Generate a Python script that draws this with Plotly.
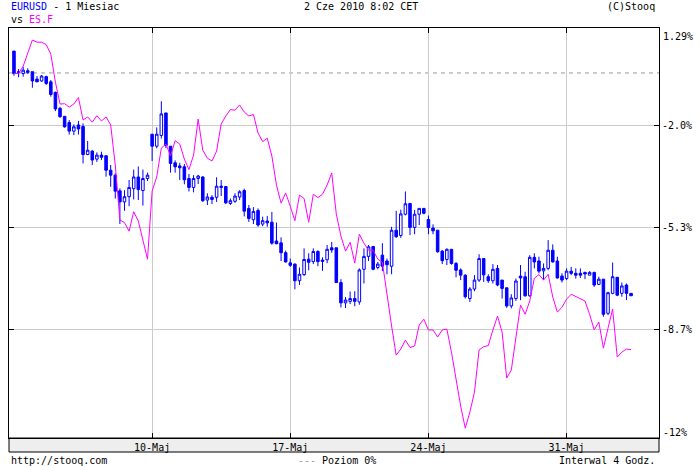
import plotly.graph_objects as go

# ---- data (percent) ----
OPEN = [0.38, -0.32, -0.35, -0.26, -0.29, -0.53, -0.59, -0.45, -0.62, -0.96,
        -1.48, -1.74, -1.94, -2.22, -2.02, -2.07, -2.98, -2.87, -3.13, -3.00,
        -3.02, -3.49, -3.65, -4.16, -4.52, -4.35, -4.09, -3.71, -4.15, -3.76,
        -2.32, -2.71, -2.36, -1.63, -2.71, -3.25, -3.35, -3.38, -3.76, -4.05,
        -3.76, -3.71, -4.46, -4.37, -4.37, -4.05, -4.02, -4.57, -4.50, -4.36,
        -4.15, -4.73, -5.10, -4.80, -5.24, -5.14, -5.18, -5.79, -5.85, -6.17,
        -6.50, -6.54, -7.08, -6.88, -6.38, -6.46, -6.13, -6.41, -6.40, -6.01,
        -6.01, -7.14, -7.80, -7.75, -7.66, -7.77, -6.71, -6.29, -5.97, -6.65,
        -6.25, -6.44, -6.61, -5.44, -5.61, -4.92, -4.57, -5.35, -4.92, -4.73,
        -5.09, -5.37, -5.44, -6.12, -6.39, -6.06, -6.52, -6.73, -6.90, -7.66,
        -7.35, -7.06, -6.36, -6.95, -7.08, -6.68, -7.06, -7.31, -7.90, -7.66,
        -6.93, -6.95, -7.57, -6.32, -6.44, -6.76, -6.68, -6.09, -6.44, -6.93,
        -7.01, -6.77, -6.84, -6.84, -6.81, -6.90, -6.81, -7.20, -7.03, -8.14,
        -7.49, -6.97, -7.49, -7.22, -7.49]
HIGH = [0.38, -0.20, -0.13, -0.18, -0.29, -0.43, -0.40, -0.42, -0.56, -0.94,
        -1.43, -1.74, -1.86, -2.00, -1.89, -1.97, -2.54, -2.84, -2.91, -2.89,
        -3.02, -3.32, -3.59, -4.08, -4.14, -3.81, -3.47, -3.37, -3.47, -3.57,
        -2.32, -2.10, -1.25, -1.63, -2.71, -3.17, -3.25, -3.29, -3.61, -3.65,
        -3.64, -3.68, -4.24, -4.30, -3.72, -3.81, -4.01, -4.41, -4.24, -4.14,
        -4.09, -4.62, -4.69, -4.73, -5.00, -4.98, -4.85, -5.19, -5.67, -6.10,
        -6.36, -6.52, -6.65, -6.03, -6.19, -6.03, -6.09, -6.32, -5.92, -5.82,
        -6.01, -7.03, -7.61, -7.43, -7.42, -6.68, -6.03, -5.92, -5.96, -6.47,
        -5.86, -6.36, -5.33, -4.81, -4.77, -4.18, -4.57, -4.78, -4.73, -4.73,
        -4.96, -5.25, -5.44, -6.08, -6.03, -6.06, -6.47, -6.68, -6.87, -7.29,
        -6.90, -6.22, -6.36, -6.87, -6.54, -6.57, -7.06, -7.31, -7.52, -7.01,
        -6.57, -6.79, -6.25, -6.19, -6.30, -6.52, -5.76, -5.90, -6.30, -6.84,
        -6.68, -6.63, -6.68, -6.68, -6.79, -6.77, -6.79, -6.95, -7.03, -7.44,
        -6.49, -6.97, -7.14, -7.17, -7.49]
LOW = [-0.42, -0.47, -0.45, -0.36, -0.81, -0.62, -0.62, -0.72, -1.10, -1.57,
       -1.79, -2.11, -2.33, -2.35, -2.33, -3.27, -3.00, -3.32, -3.22, -3.16,
       -3.70, -4.03, -4.41, -5.24, -4.81, -4.66, -4.44, -4.46, -4.64, -3.84,
       -3.19, -2.78, -2.46, -2.77, -3.57, -3.57, -3.81, -3.95, -4.18, -4.21,
       -3.94, -4.52, -4.62, -4.59, -4.52, -4.33, -4.59, -4.62, -4.55, -4.46,
       -4.99, -5.17, -5.24, -5.33, -5.31, -5.33, -5.91, -5.89, -6.44, -6.49,
       -6.63, -7.36, -7.22, -6.93, -6.74, -6.54, -6.61, -6.76, -6.51, -6.17,
       -7.15, -7.95, -7.97, -7.84, -7.91, -7.86, -7.17, -6.44, -6.74, -6.71,
       -6.77, -6.87, -6.87, -5.69, -5.69, -4.96, -5.60, -5.57, -5.27, -4.92,
       -5.57, -5.57, -6.17, -6.54, -6.57, -6.56, -6.97, -7.06, -7.66, -7.77,
       -7.42, -7.12, -7.12, -7.15, -7.17, -7.26, -7.66, -7.96, -7.98, -7.74,
       -7.71, -7.60, -7.60, -6.68, -6.84, -7.06, -6.74, -6.49, -7.01, -7.14,
       -7.06, -6.90, -7.01, -6.99, -7.03, -6.90, -7.28, -7.22, -8.25, -8.20,
       -7.52, -7.58, -7.60, -7.71, -7.57]
CLOSE = [-0.35, -0.29, -0.24, -0.31, -0.59, -0.62, -0.43, -0.67, -1.03, -1.50,
         -1.75, -2.08, -2.22, -2.08, -2.15, -2.98, -2.84, -3.16, -3.00, -3.07,
         -3.49, -3.65, -4.17, -4.52, -4.35, -4.05, -3.71, -4.12, -3.76, -3.65,
         -2.71, -2.32, -1.66, -2.69, -3.27, -3.38, -3.41, -3.80, -4.05, -3.76,
         -3.68, -4.48, -4.36, -4.44, -4.01, -4.01, -4.55, -4.48, -4.33, -4.19,
         -4.82, -5.06, -4.83, -5.27, -5.13, -5.20, -5.86, -5.88, -6.17, -6.47,
         -6.58, -7.08, -6.87, -6.39, -6.48, -6.13, -6.46, -6.45, -6.06, -6.08,
         -7.14, -7.80, -7.71, -7.66, -7.75, -6.73, -6.29, -5.98, -6.71, -6.54,
         -6.61, -6.56, -5.44, -5.65, -4.91, -4.58, -5.35, -4.92, -4.73, -4.89,
         -5.35, -5.46, -6.14, -6.43, -6.06, -6.52, -6.74, -6.90, -7.60, -7.35,
         -7.06, -6.36, -6.89, -7.08, -6.71, -7.22, -7.33, -7.90, -7.64, -7.09,
         -6.99, -7.57, -6.32, -6.47, -6.77, -6.68, -6.09, -6.47, -6.99, -7.06,
         -6.77, -6.84, -6.90, -6.90, -6.86, -6.81, -7.22, -7.03, -8.17, -7.47,
         -6.95, -7.55, -7.25, -7.49, -7.57]
ES_F = [-0.35, -0.35, -0.11, 0.32, 0.74, 0.67, 0.67, 0.59, 0.28, -0.63,
        -1.34, -1.33, -1.44, -1.34, -1.13, -1.86, -1.76, -1.93, -1.72, -1.89,
        -1.76, -2.02, -3.32, -5.11, -5.19, -5.47, -4.84, -5.14, -5.76, -6.38,
        -4.17, -3.71, -2.77, -2.64, -3.03, -2.53, -2.64, -3.13, -3.47, -3.00,
        -1.83, -2.84, -3.10, -3.19, -2.87, -1.99, -1.73, -1.52, -1.54, -1.37,
        -1.60, -1.73, -1.68, -2.28, -2.56, -2.45, -3.03, -3.97, -4.56, -4.23,
        -4.66, -5.13, -4.30, -4.41, -5.18, -4.27, -4.38, -4.27, -3.97, -3.58,
        -4.92, -5.63, -6.12, -5.83, -6.51, -5.57, -5.86, -6.09, -6.09, -6.38,
        -6.48, -7.55, -8.55, -9.50, -9.30, -9.01, -9.25, -9.20, -8.52, -8.33,
        -8.68, -8.68, -8.91, -8.68, -8.65, -9.40, -10.28, -11.15, -11.87, -11.35,
        -10.70, -9.33, -9.22, -9.19, -8.68, -8.23, -8.75, -10.24, -9.98, -8.85,
        -7.87, -8.17, -7.74, -7.00, -6.88, -7.06, -6.87, -7.61, -8.10, -7.94,
        -7.68, -7.52, -7.60, -7.68, -7.74, -8.17, -8.68, -8.42, -9.27, -8.62,
        -8.00, -9.56, -9.40, -9.30, -9.32]

WEEK_TICK_INDEX = [30, 60, 90, 120]          # candle index of Monday 00:00
WEEK_TICK_LABELS = ["10-Maj", "17-Maj", "24-Maj", "31-Maj"]
Y_TICK_VALUES = [-2.03, -5.35, -8.67]
Y_TICK_LABELS = ["-2.0%", "-5.3%", "-8.7%"]
Y_TOP_LABEL = "1.29%"
Y_BOTTOM = -12.0
Y_BOTTOM_LABEL = "-12%"
ZERO_LEVEL = -0.33
Y_RANGE = [-12.19, 1.13]
X_RANGE = [-1.08, 140.07]

FONT = "DejaVu Sans Mono"
BLUE = "#0000ff"
MAGENTA = "#ff00ff"

x = list(range(len(OPEN)))

fig = go.Figure()
fig.add_trace(go.Candlestick(
    x=x, open=OPEN, high=HIGH, low=LOW, close=CLOSE,
    increasing=dict(line=dict(color=BLUE, width=1), fillcolor="#ffffff"),
    decreasing=dict(line=dict(color=BLUE, width=1), fillcolor=BLUE),
    whiskerwidth=0, showlegend=False, hoverinfo="skip"))
fig.add_trace(go.Scatter(
    x=x, y=ES_F, mode="lines", line=dict(color=MAGENTA, width=1),
    showlegend=False, hoverinfo="skip"))

# plot area in pixels: x 8..660, y 28..438
W, H = 700, 466
L, R, T, B = 8, 40, 28, 28
PW, PH = W - L - R, H - T - B


def px_x(px):
    return (px - L) / PW


def px_y(py):
    return (H - B - py) / PH


fig.update_layout(
    width=W, height=H,
    margin=dict(l=L, r=R, t=T, b=B, pad=0),
    paper_bgcolor="white", plot_bgcolor="white",
    showlegend=False,
    boxgap=0.45, boxgroupgap=0,
    font=dict(family=FONT, size=10, color="black"),
)
fig.update_xaxes(
    range=X_RANGE, tickmode="array", tickvals=WEEK_TICK_INDEX, ticktext=WEEK_TICK_LABELS,
    showgrid=True, gridcolor="#cccccc", gridwidth=1,
    showline=True, linecolor="black", linewidth=1, mirror="ticks",
    ticks="inside", ticklen=5, tickcolor="black", tickwidth=1,
    zeroline=False, rangeslider=dict(visible=False), fixedrange=True,
    tickfont=dict(family=FONT, size=10, color="black"),
)
fig.update_yaxes(
    range=Y_RANGE, side="right", tickmode="array",
    tickvals=Y_TICK_VALUES, ticktext=Y_TICK_LABELS,
    showgrid=True, gridcolor="#cccccc", gridwidth=1,
    showline=True, linecolor="black", linewidth=1, mirror="ticks",
    ticks="inside", ticklen=5, tickcolor="black", tickwidth=1,
    zeroline=False, fixedrange=True,
    tickfont=dict(family=FONT, size=10, color="black"),
)

fig.add_shape(type="line", xref="paper", yref="y", x0=0, x1=1,
              y0=ZERO_LEVEL, y1=ZERO_LEVEL,
              line=dict(color="#999999", width=1, dash="4px,4px"), layer="below")
fig.add_shape(type="rect", xref="paper", yref="paper", x0=0, x1=1,
              y0=px_y(452), y1=0, fillcolor="#eeeeee",
              line=dict(color="black", width=1), layer="below")

ann = dict(showarrow=False, font=dict(family=FONT, size=10, color="black"),
           xref="paper", yref="paper", yanchor="middle")
fig.add_annotation(text="<span style='color:#0000ff'>EURUSD</span> - 1 Miesiac",
                   x=px_x(8), y=px_y(7), xanchor="left", **ann)
fig.add_annotation(text="vs <span style='color:#ff00ff'>ES.F</span>",
                   x=px_x(8), y=px_y(20), xanchor="left", **ann)
fig.add_annotation(text="2 Cze 2010 8:02 CET", x=px_x(302), y=px_y(7), xanchor="left", **ann)
fig.add_annotation(text="(C)Stooq", x=px_x(658), y=px_y(7), xanchor="right", **ann)
fig.add_annotation(text="http://stooq.com", x=px_x(8), y=px_y(460), xanchor="left", **ann)
fig.add_annotation(text="<span style='color:#999999'>---</span> Poziom 0%",
                   x=px_x(296), y=px_y(460), xanchor="left", **ann)
fig.add_annotation(text="Interwal 4 Godz.", x=px_x(658), y=px_y(460), xanchor="right", **ann)
fig.add_annotation(text=Y_TOP_LABEL, x=px_x(662), y=px_y(36), xanchor="left", **ann)
fig.add_annotation(text=Y_BOTTOM_LABEL, x=px_x(662), xref="paper", yref="y", y=Y_BOTTOM,
                   xanchor="left", yanchor="middle", showarrow=False,
                   font=dict(family=FONT, size=10, color="black"))

fig.write_html(
    "out.html",
    config={"displayModeBar": False, "staticPlot": True},
    post_script="document.body.style.margin='0';document.body.style.padding='0';"
                "document.body.style.overflow='hidden';",
)
